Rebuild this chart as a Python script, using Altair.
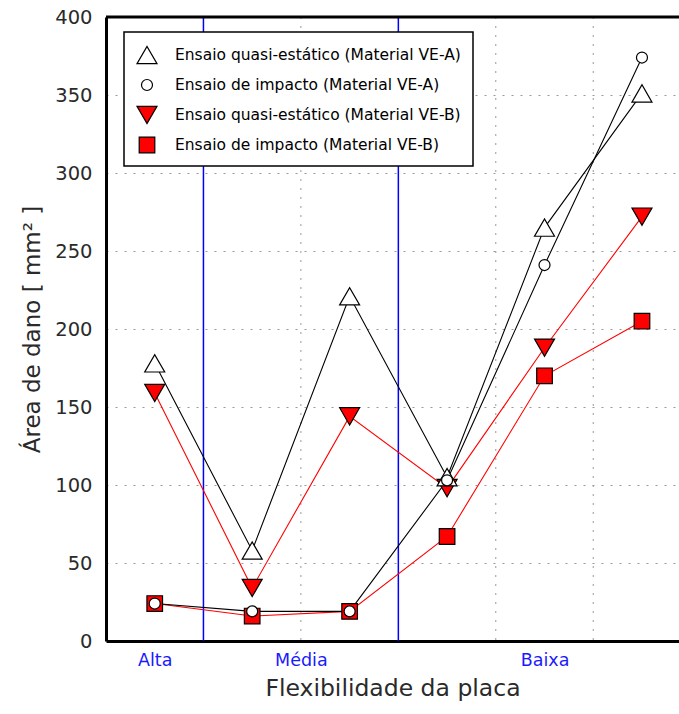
import altair as alt
import pandas as pd

# Posições no eixo x (centro de cada ensaio) e nomes das séries
x_pos = [0.5, 1.5, 2.5, 3.5, 4.5, 5.5]
series = [
    "Ensaio quasi-estático (Material VE-A)",
    "Ensaio de impacto (Material VE-A)",
    "Ensaio quasi-estático (Material VE-B)",
    "Ensaio de impacto (Material VE-B)",
]
quasi_a = [178, 58, 221, 105, 265, 351]
impacto_a = [24, 19, 19, 103, 241, 374]
quasi_b = [159, 34, 144, 98, 188, 272]
impacto_b = [24, 16, 19, 67, 170, 205]

# Rótulos do eixo x (flexibilidade da placa)
label_pos = [0.5, 2, 4.5]
label_txt = ["Alta", "Média", "Baixa"]

# Separadores de grupo (azul) e grade vertical pontilhada
sep_pos = [1, 3]
grid_pos = [2, 4, 5]

# Material VE-B desenhado primeiro, VE-A por cima
draw_order = [3, 2, 0, 1]
values = [quasi_a, impacto_a, quasi_b, impacto_b]
rows = []
for i in draw_order:
    for xv, yv in zip(x_pos, values[i]):
        rows.append({"serie": series[i], "x": xv, "y": yv})
df = pd.DataFrame(rows)
df_leg = pd.DataFrame({"serie": series})

line_colors = ["#000000", "#000000", "#ff0000", "#ff0000"]
fills = ["#ffffff", "#ffffff", "#ff0000", "#ff0000"]
# Símbolos em caminhos SVG (unidade = metade do lado do quadrado de referência)
shapes = [
    "M-1,0.866L1,0.866L0,-0.866Z",
    "M-0.55,0A0.55,0.55,0,1,1,0.55,0A0.55,0.55,0,1,1,-0.55,0Z",
    "M-1,-0.866L1,-0.866L0,0.866Z",
    "M-0.78,-0.78L0.78,-0.78L0.78,0.78L-0.78,0.78Z",
]

x_scale = alt.Scale(domain=[0, 5.88], nice=False, zero=False)
y_scale = alt.Scale(domain=[0, 400], nice=False)
shape_scale = alt.Scale(domain=series, range=shapes)
fill_scale = alt.Scale(domain=series, range=fills)

label_map = "{" + ", ".join(f"'{p:g}': '{t}'" for p, t in zip(label_pos, label_txt)) + "}"

x_axis = alt.Axis(
    values=label_pos,
    labelExpr=f"{label_map}[datum.value + ''] || ''",
    title="Flexibilidade da placa",
    grid=False,
    ticks=False,
    domainColor="black",
    domainWidth=3,
    labelColor="#1a1aff",
    labelFont="DejaVu Sans",
    labelFontSize=17.5,
    labelPadding=10,
    titleFont="DejaVu Sans",
    titleFontSize=23.5,
    titleFontWeight="normal",
    titleColor="#2a2a2a",
    titlePadding=8,
)
y_axis = alt.Axis(
    values=list(range(0, 401, 50)),
    title="Área de dano [ mm² ]",
    grid=True,
    gridDash=[2, 7],
    gridColor="#999999",
    gridWidth=1,
    ticks=False,
    domainColor="black",
    domainWidth=3,
    labelColor="#2a2a2a",
    labelFont="DejaVu Sans",
    labelFontSize=19.5,
    labelPadding=14,
    titleFont="DejaVu Sans",
    titleFontSize=23,
    titleFontWeight="normal",
    titleColor="#2a2a2a",
    titlePadding=10,
)

base = alt.Chart(df)

grid_v = alt.Chart(pd.DataFrame({"x": grid_pos})).mark_rule(
    color="#999999", strokeDash=[2, 7], strokeWidth=1
).encode(x=alt.X("x:Q", scale=x_scale, axis=x_axis))

sep = alt.Chart(pd.DataFrame({"x": sep_pos})).mark_rule(
    color="#0000ff", strokeWidth=1.5
).encode(x=alt.X("x:Q", scale=x_scale))

top = alt.Chart(pd.DataFrame({"y": [400]})).mark_rule(
    color="black", strokeWidth=3
).encode(y=alt.Y("y:Q", scale=y_scale, axis=y_axis))

lines = base.mark_line(strokeWidth=1.1).encode(
    x=alt.X("x:Q", scale=x_scale),
    y=alt.Y("y:Q", scale=y_scale),
    stroke=alt.Stroke("serie:N", scale=alt.Scale(domain=series, range=line_colors), legend=None),
    detail="serie:N",
    order="x:Q",
)

points = base.mark_point(filled=True, stroke="black", strokeWidth=1.2, opacity=1, size=400).encode(
    x=alt.X("x:Q", scale=x_scale),
    y=alt.Y("y:Q", scale=y_scale),
    shape=alt.Shape("serie:N", scale=shape_scale, legend=None),
    fill=alt.Fill("serie:N", scale=fill_scale, legend=None),
)

main = alt.layer(grid_v, sep, top, lines, points)

# Legenda em caixa no canto superior esquerdo da área do gráfico
leg_y = alt.Y("serie:N", scale=alt.Scale(type="point", domain=series, range=[38, 128], padding=0), axis=None)

leg_box = alt.Chart(df_leg).mark_rect(fill="white", stroke="black", strokeWidth=1.5).encode(
    x=alt.value(18), x2=alt.value(367), y=alt.value(15), y2=alt.value(149)
).transform_filter(alt.datum.serie == series[0])

leg_sym = alt.Chart(df_leg).mark_point(
    filled=True, stroke="black", strokeWidth=1.2, opacity=1, size=400
).encode(
    x=alt.value(41),
    y=leg_y,
    shape=alt.Shape("serie:N", scale=shape_scale, legend=None),
    fill=alt.Fill("serie:N", scale=fill_scale, legend=None),
)

leg_txt = alt.Chart(df_leg).mark_text(
    align="left", baseline="middle", font="DejaVu Sans", fontSize=15.5, color="black"
).encode(x=alt.value(69), y=leg_y, text="serie:N")

legend_layer = alt.layer(leg_box, leg_sym, leg_txt)

chart = (
    alt.layer(main, legend_layer)
    .resolve_scale(y="independent")
    .properties(
        width=573,
        height=624,
        padding={"left": 106, "top": 17, "right": 0, "bottom": 73},
        autosize=alt.AutoSizeParams(type="none"),
        background="white",
    )
    .configure_view(stroke=None)
)

chart.save("out.html", embed_options={"renderer": "svg", "actions": False})
